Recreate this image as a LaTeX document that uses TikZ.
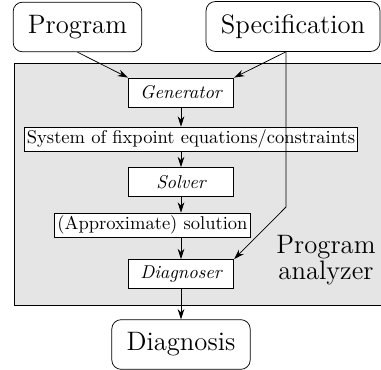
\documentclass[tikz,border=0pt]{standalone}
\usetikzlibrary{arrows.meta}
\begin{document}
\begin{tikzpicture}[x=0.54pt,y=-0.54pt,
    >={Stealth[length=5.5pt,width=3.6pt]},
    io/.style={draw,rounded corners=5pt,inner xsep=8pt,inner ysep=7pt,font=\Large},
    stage/.style={draw,fill=white,minimum width=57pt,minimum height=15.7pt,font=\itshape},
    data/.style={draw,fill=white,inner sep=1.5pt}]
  \useasboundingbox (0,0) rectangle (381,370);
  % analyzer area
  \draw[fill=gray!20] (14,63) rectangle (400,305);
  \node[font=\Large,align=center] (name) at (326,260) {Program\\[-4pt]analyzer};

  \node[io] (prog) at (77.5,27) {Program};
  \node[io] (spec) at (293,26.5) {Specification};
  \node[stage] (gen) at (181,92.5) {Generator};
  \node[data] (sys) at (191,139) {System of fixpoint equations/constraints};
  \node[stage] (solver) at (181,182) {Solver};
  \node[data] (sol) at (152.5,225) {(Approximate) solution};
  \node[stage] (diag) at (181,274) {Diagnoser};
  \node[io] (res) at (181,344.5) {Diagnosis};
  \coordinate (bend) at (286,207);

  \draw[->] (prog.south) -- (gen.north west);
  \draw[->] (spec.south -| bend) -- (gen.north east);
  \draw[->] (spec.south -| bend) -- (bend) -- (diag.north east);
  \draw[->] (gen) -- (gen |- sys.north);
  \draw[->] (solver |- sys.south) -- (solver);
  \draw[->] (solver) -- (sol.north -| solver);
  \draw[->] (diag |- sol.south) -- (diag);
  \draw[->] (diag) -- (res);
\end{tikzpicture}
\end{document}
